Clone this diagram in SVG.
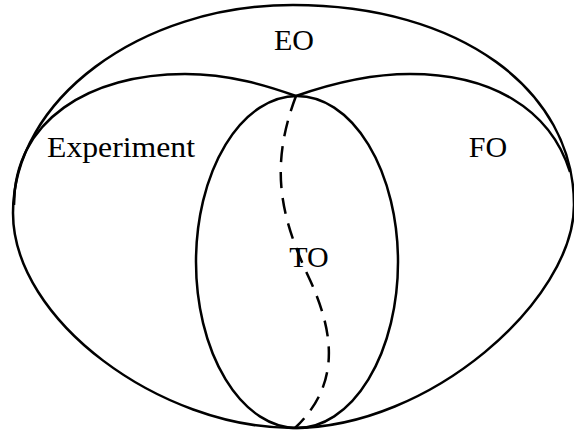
<svg xmlns="http://www.w3.org/2000/svg" width="574" height="432" viewBox="0 0 574 432">
  <style>
    .ln { fill: none; stroke: #000; stroke-width: 2.5; }
    .dash { fill: none; stroke: #000; stroke-width: 2.5; stroke-dasharray: 16 10; }
    .lbl { font-family: "Liberation Serif", "DejaVu Serif", serif; font-size: 30px; fill: #000; text-anchor: middle; }
  </style>
  <rect width="574" height="432" fill="#fff"/>
  <g id="EO">
    <path class="ln" d="M293,5 C460,5 574,90 574,205 C574,300 430,428 293,428 C160,428 13,320 13,213 C13,100 140,5 293,5 Z"/>
    <text class="lbl" x="294" y="50">EO</text>
  </g>
  <g id="Experiment">
    <path class="ln" d="M14,205 C14,120 90,74 185,74 C230,74 268,86 296,96"/>
    <text class="lbl" x="121" y="157" textLength="148" lengthAdjust="spacingAndGlyphs">Experiment</text>
  </g>
  <g id="FO">
    <path class="ln" d="M296,96 C330,84 370,74 410,74 C490,74 550,108 570,172"/>
    <text class="lbl" x="488" y="157">FO</text>
  </g>
  <g id="TO">
    <ellipse class="ln" cx="297" cy="262" rx="101" ry="166"/>
    <text class="lbl" x="309" y="267">TO</text>
  </g>
  <g id="connectors">
    <path class="dash" d="M296,96 C268,170 282,220 310,280 C335,335 340,385 295,428"/>
  </g>
</svg>
